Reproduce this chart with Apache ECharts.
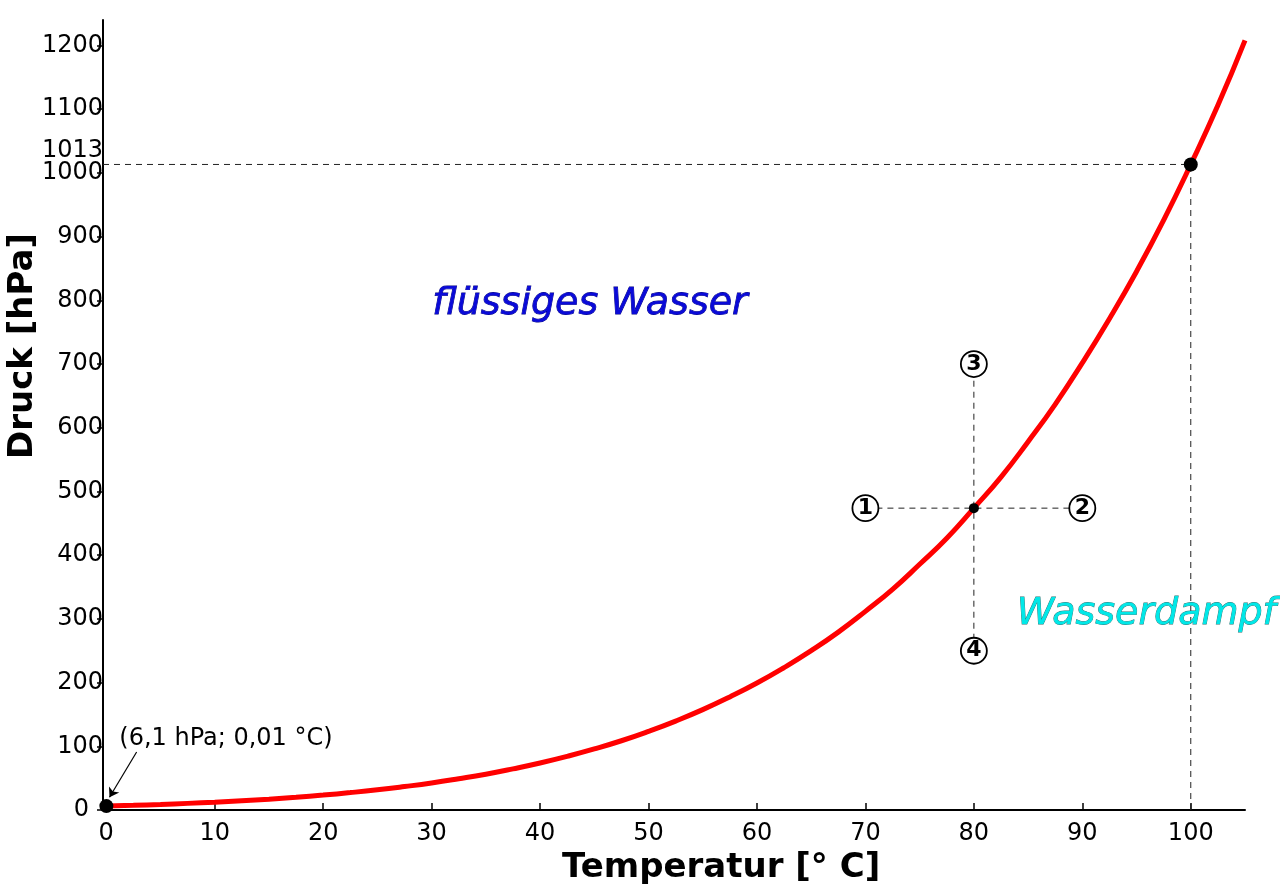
<!DOCTYPE html>
<html>
<head>
<meta charset="utf-8">
<script src="https://cdn.jsdelivr.net/npm/echarts@6/dist/echarts.min.js"></script>
<style>
  html, body { margin: 0; padding: 0; background: #fff; }
  #chart { width: 1280px; height: 894px; }
</style>
</head>
<body>
<div id="chart"></div>
<script>
// Dampfdruckkurve Wasser: Temperatur [°C] -> Druck [hPa]
const temps = [0.01, 2.5, 5, 7.5, 10, 12.5, 15, 17.5, 20, 22.5, 25, 27.5, 30, 32.5, 35, 37.5, 40, 42.5, 45, 47.5, 50,
    52.5, 55, 57.5, 60, 62.5, 65, 67.5, 70, 72.5, 75, 77.5, 80, 82.5, 85, 87.5, 90, 92.5, 95, 97.5, 100, 102.5, 105]
const pressures = [6.1, 7.3, 8.7, 10.4, 12.3, 14.5, 17.0, 20.0, 23.4, 27.3, 31.7, 36.8, 42.4, 49.0, 56.2, 64.6, 73.8, 84.2, 95.8, 108.7, 123.4,
    139.6, 157.5, 177.5, 199.3, 223.6, 250.1, 279.2, 311.8, 346.3, 385.7, 426.6, 473.8, 522.6, 578.1, 636.8, 701.8, 771.2, 845.3, 925.8, 1013.3, 1106, 1208]

const xTicks = [0, 10, 20, 30, 40, 50, 60, 70, 80, 90, 100]
const yTicks = [0, 100, 200, 300, 400, 500, 600, 700, 800, 900, 1000, 1100, 1200]

const triplePoint = [0.01, 6.1]
const boilingPoint = [100, 1013.25]
const examplePoint = [80, 473.8]
const circledPoints = [[70, 473.8, '1'], [90, 473.8, '2'], [80, 700, '3'], [80, 250, '4']]

const xMin = -0.3
const xMax = 105
const yMax = 1240

let chart = echarts.init(document.getElementById('chart'))

const dashStyle = { color: '#222', width: 1, type: [6, 5] }

const dashLine = (pts) => ({
    type: 'line',
    data: pts,
    symbol: 'none',
    silent: true,
    lineStyle: dashStyle,
    z: 2
})

const textPoint = (pt, text, style) => ({
    type: 'scatter',
    data: [pt],
    symbolSize: 0,
    silent: true,
    itemStyle: { opacity: 1 },
    label: Object.assign({ show: true, formatter: text }, style),
    z: 6
})

chart.setOption({
    animation: false,
    grid: { left: 103, right: 35, top: 20, bottom: 84 },
    xAxis: {
        type: 'value',
        min: xMin,
        max: xMax,
        axisLine: { show: true, lineStyle: { color: '#000', width: 2 } },
        axisTick: { show: true, inside: true, length: 7, customValues: xTicks, lineStyle: { color: '#000', width: 1.5 } },
        axisLabel: { customValues: xTicks, color: '#000', fontSize: 24, fontFamily: 'DejaVu Sans', margin: 12 },
        splitLine: { show: false }
    },
    yAxis: {
        type: 'value',
        min: 0,
        max: yMax,
        axisLine: { show: true, onZero: false, lineStyle: { color: '#000', width: 2 } },
        axisTick: { show: true, inside: false, length: 6, customValues: yTicks, lineStyle: { color: '#000', width: 1.5 } },
        axisLabel: {
            customValues: yTicks, color: '#000', fontSize: 24, fontFamily: 'DejaVu Sans', margin: 0,
            formatter: v => v === 0 ? '{z|0}' : String(v),
            rich: { z: { fontSize: 24, fontFamily: 'DejaVu Sans', color: '#000', padding: [0, 14, 0, 0] } }
        },
        splitLine: { show: false }
    },
    graphic: [
        {
            type: 'text', left: 562, top: 851,
            style: { text: 'Temperatur [° C]', fontSize: 34, fontWeight: 'bold', fontFamily: 'DejaVu Sans', fill: '#000' }
        },
        {
            type: 'text', x: 6, y: 459, rotation: Math.PI / 2,
            style: { text: 'Druck [hPa]', fontSize: 34, fontWeight: 'bold', fontFamily: 'DejaVu Sans', fill: '#000' }
        }
    ],
    series: [
        dashLine([[xMin, boilingPoint[1]], boilingPoint]),
        dashLine([[boilingPoint[0], 0], boilingPoint]),
        dashLine([[70, examplePoint[1]], [90, examplePoint[1]]]),
        dashLine([[80, 250], [80, 700]]),
        {
            type: 'line',
            data: temps.map((t, i) => [t, pressures[i]]),
            smooth: true,
            symbol: 'none',
            clip: false,
            lineStyle: { color: '#ff0000', width: 5 },
            z: 3,
            // Pfeil zum Tripelpunkt
            markLine: {
                silent: true,
                symbol: ['none', 'arrow'],
                symbolSize: 9,
                label: { show: false },
                lineStyle: { color: '#000', width: 1.2, type: 'solid' },
                data: [[{ coord: [2.8, 91] }, { coord: [0.3, 20] }]]
            }
        },
        {
            type: 'scatter',
            data: [triplePoint, boilingPoint],
            symbolSize: 14,
            clip: false,
            itemStyle: { color: '#000', opacity: 1 },
            z: 5
        },
        {
            type: 'scatter',
            data: [examplePoint],
            symbolSize: 10,
            itemStyle: { color: '#000', opacity: 1 },
            z: 5
        },
        {
            type: 'scatter',
            data: circledPoints.map(p => [p[0], p[1], p[2]]),
            symbolSize: 26,
            itemStyle: { color: '#fff', borderColor: '#000', borderWidth: 1.8, opacity: 1 },
            label: {
                show: true, position: 'inside',
                formatter: p => p.value[2],
                color: '#000', fontSize: 22, fontWeight: 'bold', fontFamily: 'DejaVu Sans'
            },
            z: 6
        },
        // Strich von "1013" zur Achse
        {
            type: 'line',
            data: [[-1.6, 1031], [-0.5, 1012]],
            symbol: 'none',
            silent: true,
            clip: false,
            lineStyle: { color: '#333', width: 1 },
            z: 4
        },
        textPoint([1.2, 112], '(6,1 hPa; 0,01 °C)', {
            position: 'right', distance: 0, color: '#000', fontSize: 24, fontFamily: 'DejaVu Sans'
        }),
        textPoint([-0.3, 1035], '1013', {
            position: 'left', distance: 0, color: '#000', fontSize: 24, fontFamily: 'DejaVu Sans'
        }),
        textPoint([44.6, 794], 'flüssiges Wasser', {
            position: 'inside', color: '#0a0ad8', fontSize: 38, fontStyle: 'italic', fontFamily: 'DejaVu Sans',
            textBorderColor: '#00007a', textBorderWidth: 0.8
        }),
        textPoint([95.9, 307], 'Wasserdampf', {
            position: 'inside', color: '#00e8e8', fontSize: 38, fontStyle: 'italic', fontFamily: 'DejaVu Sans',
            textBorderColor: '#2a7070', textBorderWidth: 0.8
        })
    ]
});
window.onresize = function () {
    chart.resize();
};
</script>
</body>
</html>
